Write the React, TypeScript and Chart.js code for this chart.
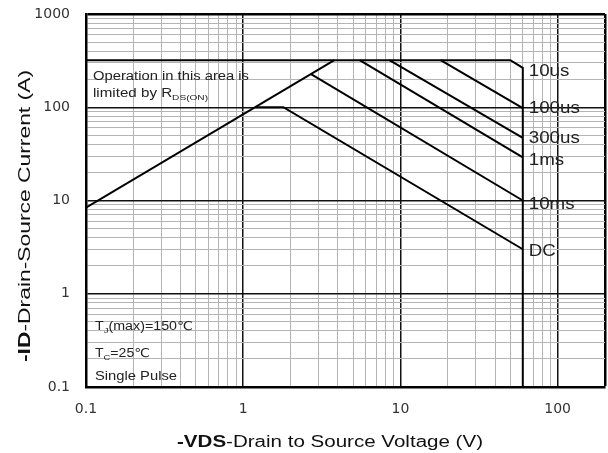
import React, { useEffect, useRef } from 'react';
import { Chart, registerables } from 'chart.js';
Chart.register(...registerables);

// ---- axis ticks ----
const xTickValues = [0.1, 0.2, 0.3, 0.4, 0.5, 0.6, 0.7, 0.8, 0.9, 1, 2, 3, 4, 5, 6, 7, 8, 9, 10, 20, 30, 40, 50, 60, 70, 80, 90, 100, 200];
const yTickValues = [0.1, 0.2, 0.3, 0.4, 0.5, 0.6, 0.7, 0.8, 0.9, 1, 2, 3, 4, 5, 6, 7, 8, 9, 10, 20, 30, 40, 50, 60, 70, 80, 90, 100, 200, 300, 400, 500, 600, 700, 800, 900, 1000];
const xTickLabels = ['0.1', '1', '10', '100'];
const yTickLabels = ['0.1', '1', '10', '100', '1000'];

// ---- series (V, A) ----
const rdsV = [0.1, 3.8];
const rdsI = [8.4, 320];
const us10V = [0.1, 50, 60, 60];
const us10I = [320, 320, 265, 0.1];
const us100V = [18, 60];
const us100I = [320, 98];
const us300V = [8.5, 60];
const us300I = [320, 47];
const ms1V = [5.5, 60];
const ms1I = [320, 29];
const ms10V = [2.7, 60];
const ms10I = [226, 10];
const dcV = [1.2, 1.8, 60];
const dcI = [100, 100, 3];

const curveLabels = ['10us', '100us', '300us', '1ms', '10ms', 'DC'];
const curveLabelI = [251, 100, 48, 28, 9.4, 2.95];
const curveLabelV = 60;

const toPts = (xs: number[], ys: number[]) => xs.map((x, i) => ({ x, y: ys[i] }));

const isDecade = (v: number) => Math.abs(Math.log10(v) - Math.round(Math.log10(v))) < 1e-6;
const fmt = (v: number) => (v < 1 ? String(Number(v.toFixed(1))) : String(Math.round(v)));

type Part = { t: string; font: string; dy?: number };
function drawRich(ctx: CanvasRenderingContext2D, parts: Part[], x: number, y: number, targetW: number, align: 'left' | 'center', rotate = false, color = '#222') {
  ctx.save();
  let W = 0;
  const ws = parts.map((p) => {
    ctx.font = p.font;
    const w = ctx.measureText(p.t).width;
    W += w;
    return w;
  });
  const sx = targetW > 0 ? targetW / W : 1;
  ctx.translate(x, y);
  if (rotate) ctx.rotate(-Math.PI / 2);
  ctx.scale(sx, 1);
  ctx.fillStyle = color;
  ctx.textBaseline = 'alphabetic';
  ctx.textAlign = 'left';
  let cx = align === 'center' ? -W / 2 : 0;
  parts.forEach((p, i) => {
    ctx.font = p.font;
    ctx.fillText(p.t, cx, p.dy || 0);
    cx += ws[i];
  });
  ctx.restore();
}

const F = '"Liberation Sans", Arial, "DejaVu Sans", sans-serif';

const textPlugin = {
  id: 'soaText',
  afterDraw(chart: any) {
    const ctx: CanvasRenderingContext2D = chart.ctx;
    const xs = chart.scales.x;
    const ys = chart.scales.y;
    // axis titles
    drawRich(ctx, [
      { t: '-VDS', font: `bold 16px ${F}` },
      { t: '-Drain to Source Voltage (V)', font: `16px ${F}` },
    ], 330, 447, 306, 'center', false, '#111');
    drawRich(ctx, [
      { t: '-ID', font: `bold 16px ${F}` },
      { t: '-Drain-Source Current (A)', font: `16px ${F}` },
    ], 30, 216, 292, 'center', true, '#111');

    // annotations
    drawRich(ctx, [{ t: 'Operation in this area is', font: `12px ${F}` }], 93, 80, 156, 'left');
    drawRich(ctx, [
      { t: 'limited by R', font: `12px ${F}` },
      { t: 'DS(ON)', font: `8px ${F}`, dy: 3 },
    ], 93, 97, 115, 'left');
    drawRich(ctx, [
      { t: 'T', font: `12px ${F}` },
      { t: 'J', font: `8px ${F}`, dy: 3 },
      { t: '(max)=150℃', font: `12px ${F}` },
    ], 95, 330, 98, 'left');
    drawRich(ctx, [
      { t: 'T', font: `12px ${F}` },
      { t: 'C', font: `8px ${F}`, dy: 3 },
      { t: '=25℃', font: `12px ${F}` },
    ], 95, 357, 55, 'left');
    drawRich(ctx, [{ t: 'Single Pulse', font: `12px ${F}` }], 95, 380, 82, 'left');

    // curve labels
    const lx = xs.getPixelForValue(curveLabelV) + 6;
    curveLabels.forEach((t, i) => {
      const py = ys.getPixelForValue(curveLabelI[i]);
      ctx.save();
      ctx.font = `16px ${F}`;
      ctx.translate(lx, py + 6);
      ctx.scale(1.17, 1);
      ctx.fillStyle = '#222';
      ctx.textBaseline = 'alphabetic';
      ctx.textAlign = 'left';
      ctx.fillText(t, 0, 0);
      ctx.restore();
    });
  },
};

const zeroPad = (s: any) => {
  s.paddingLeft = 0;
  s.paddingRight = 0;
  s.paddingTop = 0;
  s.paddingBottom = 0;
};

export default function App() {
  const ref = useRef<HTMLCanvasElement>(null);
  useEffect(() => {
    if (!ref.current) return;
    const line = (label: string, xs: number[], ys: number[]) => ({
      label,
      data: toPts(xs, ys),
      showLine: true,
      borderColor: '#000',
      borderWidth: 2,
      pointRadius: 0,
      tension: 0,
      fill: false,
    });
    const gridColor = (c: any) => {
      const v = c.tick ? c.tick.value : 1;
      return isDecade(v) ? '#111' : '#b4b4b4';
    };
    const chart = new Chart(ref.current, {
      type: 'scatter',
      data: {
        datasets: [
          line('RDS(ON)', rdsV, rdsI),
          line('10us', us10V, us10I),
          line('100us', us100V, us100I),
          line('300us', us300V, us300I),
          line('1ms', ms1V, ms1I),
          line('10ms', ms10V, ms10I),
          line('DC', dcV, dcI),
        ],
      },
      options: {
        animation: false,
        responsive: false,
        devicePixelRatio: 1,
        layout: { padding: { top: 14, right: 3, left: 0, bottom: 0 } },
        plugins: { legend: { display: false }, tooltip: { enabled: false } },
        scales: {
          x: {
            type: 'logarithmic',
            min: 0.1,
            max: 200,
            afterBuildTicks: (s: any) => {
              s.ticks = xTickValues.map((v) => ({ value: v }));
            },
            afterFit: (s: any) => {
              s.height = 66;
              zeroPad(s);
            },
            ticks: {
              autoSkip: false,
              maxRotation: 0,
              padding: 14,
              color: '#333',
              font: { family: 'DejaVu Sans', size: 14 },
              callback: (v: any) => {
                const s = fmt(Number(v));
                return isDecade(Number(v)) && xTickLabels.includes(s) ? s : '';
              },
            },
            grid: {
              color: (c: any) => (c.tick && c.tick.value >= 200 ? '#000' : gridColor(c)),
              lineWidth: (c: any) => {
                const v = c.tick ? c.tick.value : 1;
                if (v >= 200) return 2.5;
                return isDecade(v) ? 1.5 : 1;
              },
              drawTicks: false,
            },
            border: { display: true, color: '#000', width: 2.5 },
          },
          y: {
            type: 'logarithmic',
            min: 0.1,
            max: 1000,
            afterBuildTicks: (s: any) => {
              s.ticks = yTickValues.map((v) => ({ value: v }));
            },
            afterFit: (s: any) => {
              s.width = 86;
              zeroPad(s);
            },
            ticks: {
              autoSkip: false,
              padding: 16,
              color: '#333',
              font: { family: 'DejaVu Sans', size: 14 },
              callback: (v: any) => {
                const s = fmt(Number(v));
                return isDecade(Number(v)) && yTickLabels.includes(s) ? s : '';
              },
            },
            grid: {
              color: (c: any) => (c.tick && c.tick.value >= 1000 ? '#000' : gridColor(c)),
              lineWidth: (c: any) => {
                const v = c.tick ? c.tick.value : 1;
                if (v >= 1000) return 2.5;
                return isDecade(v) ? 1.5 : 1;
              },
              drawTicks: false,
            },
            border: { display: true, color: '#000', width: 2.5 },
          },
        },
      },
      plugins: [textPlugin],
    } as any);
    return () => chart.destroy();
  }, []);
  return (
    <div style={{ position: 'absolute', left: 0, top: 0, width: 608, height: 453, background: '#fff' }}>
      <canvas ref={ref} width={608} height={453} style={{ display: 'block' }} />
    </div>
  );
}
